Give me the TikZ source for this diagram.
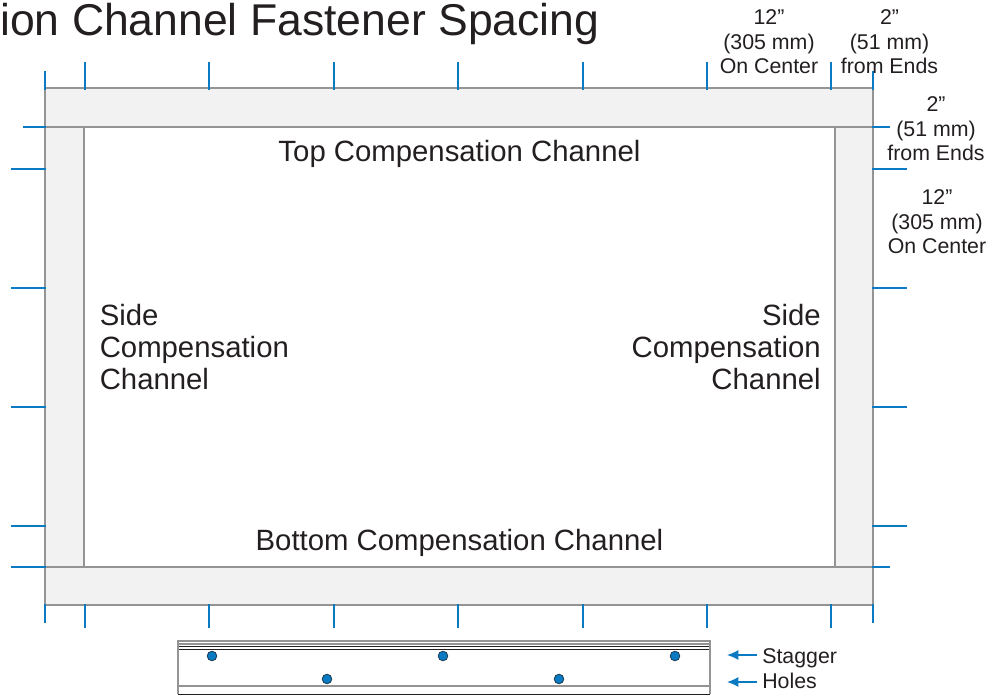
\documentclass[tikz,border=0pt]{standalone}
\usepackage{fontspec}
\setmainfont{Liberation Sans}
\definecolor{tick}{HTML}{0A7AC2}
\definecolor{frameg}{HTML}{949494}
\definecolor{fillg}{HTML}{F2F2F2}
\definecolor{ink}{HTML}{231F20}
\usetikzlibrary{arrows.meta}
\tikzset{
  tickline/.style={draw=tick,line width=1.2pt},
  part/.style={draw=frameg,fill=fillg,line width=2pt},
  big/.style={font=\fontsize{22pt}{23.7pt}\selectfont,text=ink,inner sep=0pt},
  small/.style={font=\fontsize{16pt}{18.3pt}\selectfont,text=ink,inner sep=0pt,align=center},
  hole/.style={circle,draw=ink!70!tick,fill=tick,line width=.6pt,minimum size=7.2pt,inner sep=0pt},
  pointer/.style={draw=tick,line width=1pt,-{Latex[length=8.5pt,width=7.5pt]}},
  rail/.style={draw=ink,line width=.7pt},
  railg/.style={draw=frameg,line width=1.2pt}
}
\begin{document}
\begin{tikzpicture}[x=0.75pt,y=-0.75pt]
\useasboundingbox (0,0) rectangle (989,695);
\path[clip] (0,0) rectangle (989,695);
% frame
\draw[part] (45,127) rectangle (84,567);
\draw[part] (835,127) rectangle (873,567);
\draw[part] (45,88) rectangle (873,127);
\draw[part] (45,567) rectangle (873,605);
% ticks top and bottom
\foreach \x in {85,209,334,458,583,707,831}{
  \draw[tickline] (\x,62) -- (\x,90);
  \draw[tickline] (\x,604) -- (\x,628);
}
\foreach \x in {45,873}{
  \draw[tickline] (\x,71) -- (\x,90);
  \draw[tickline] (\x,604) -- (\x,623);
}
% ticks sides
\draw[tickline] (23,127) -- (46,127);
\draw[tickline] (872,127) -- (890,127);
\foreach \y in {169,288,407,526}{
  \draw[tickline] (11,\y) -- (46,\y);
  \draw[tickline] (872,\y) -- (907,\y);
}
\draw[tickline] (11,567) -- (46,567);
\draw[tickline] (872,567) -- (890,567);
% texts
\node[font=\fontsize{33.4pt}{36pt}\selectfont,text=ink,inner sep=0pt,anchor=base west] (title) at (0,36) {ion Channel Fastener Spacing};
\node[big,anchor=base] (top) at (459.5,162) {Top Compensation Channel};
\node[big,anchor=base] (bottom) at (459.5,550.5) {Bottom Compensation Channel};
\node[big,align=left,anchor=north west] (sl) at (99.5,304.3) {Side\\Compensation\\Channel};
\node[big,align=right,anchor=north east] (sr) at (821,304.3) {Side\\Compensation\\Channel};
\node[small,anchor=north] (d1) at (769,9.5) {12”\\(305 mm)\\On Center};
\node[small,anchor=north] (d2) at (889.5,9.5) {2”\\(51 mm)\\from Ends};
\node[small,anchor=north] (d3) at (936,96.5) {2”\\(51 mm)\\from Ends};
\node[small,anchor=north] (d4) at (937,189.5) {12”\\(305 mm)\\On Center};
% channel
\draw[railg] (178,641) -- (710,641);
\draw[railg] (178,644) -- (710,644);
\draw[rail] (178,646) -- (710,646);
\draw[rail] (178,649) -- (710,649);
\draw[railg] (178,686) -- (710,686);
\draw[rail] (178,694) -- (710,694);
\draw[railg] (178,640) -- (178,694);
\draw[railg] (710,640) -- (710,694);
\node[hole] (h1) at (212,656) {};
\node[hole] (h2) at (443,656) {};
\node[hole] (h3) at (675,656) {};
\node[hole] (h4) at (327,679) {};
\node[hole] (h5) at (559,679) {};
\node[small,anchor=base west] (stag) at (762,663) {Stagger};
\node[small,anchor=base west] (holes) at (762,688) {Holes};
\coordinate (a1) at (757,655); \coordinate (b1) at (727,655);
\coordinate (a2) at (757,682); \coordinate (b2) at (727,682);
\draw[pointer] (a1) -- (b1);
\draw[pointer] (a2) -- (b2);
\end{tikzpicture}
\end{document}
